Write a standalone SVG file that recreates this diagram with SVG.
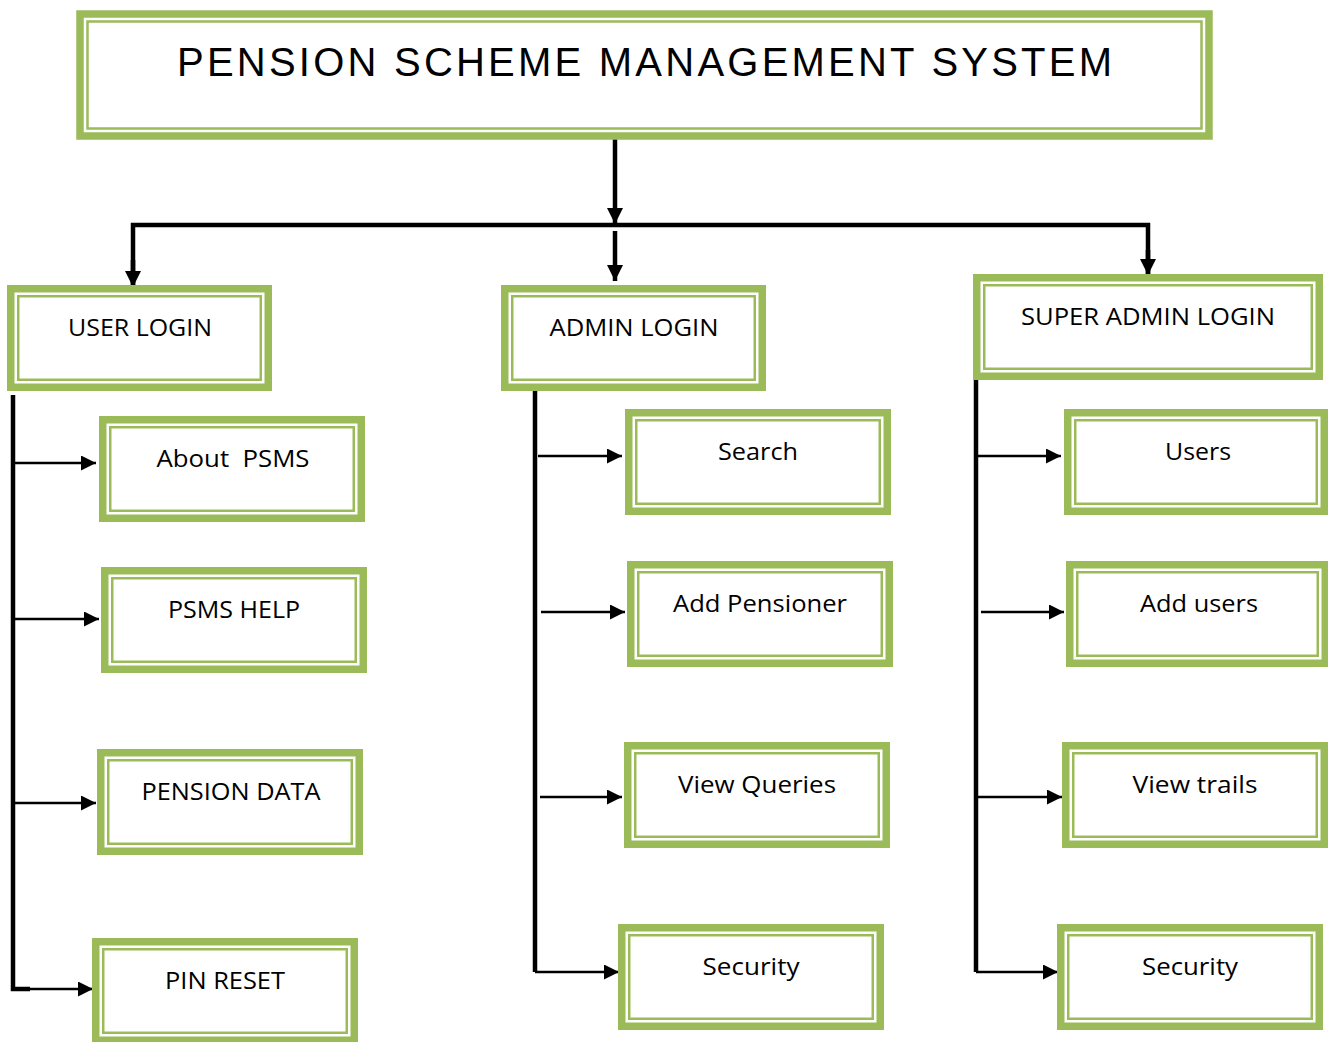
<svg xmlns="http://www.w3.org/2000/svg" width="1328" height="1042" viewBox="0 0 1328 1042">
<defs>
<style>
.band{fill:#fff;stroke:#9BBB59;stroke-width:7.5}
.thin{fill:none;stroke:#9BBB59;stroke-width:2.5}
.lbl{font-family:"Open Sans","Liberation Sans",sans-serif;font-size:24px;fill:#000;text-anchor:middle;white-space:pre}
.title{font-family:"Liberation Sans",Arial,sans-serif;font-size:40px;fill:#000;text-anchor:middle}
.main{stroke:#000;stroke-width:4.5;fill:none}
.br{stroke:#000;stroke-width:2.5;fill:none}
</style>
<marker id="ah" viewBox="0 0 10 10" refX="10" refY="5" markerWidth="15" markerHeight="15" markerUnits="userSpaceOnUse" orient="auto"><path d="M0,0 L10,5 L0,10 Z" fill="#000"/></marker>
<marker id="ahb" viewBox="0 0 10 10" refX="10" refY="5" markerWidth="16" markerHeight="16" markerUnits="userSpaceOnUse" orient="auto"><path d="M0,0 L10,5 L0,10 Z" fill="#000"/></marker>
</defs>

<g id="connectors">
<line class="main" x1="615" y1="135" x2="615" y2="224" marker-end="url(#ahb)"/>
<polyline class="main" points="133,288 133,225 1148,225 1148,275" />
<line class="main" x1="133" y1="260" x2="133" y2="287" marker-end="url(#ahb)"/>
<line class="main" x1="1148" y1="250" x2="1148" y2="275" marker-end="url(#ahb)"/>
<line class="main" x1="615" y1="231" x2="615" y2="281" marker-end="url(#ahb)"/>

<polyline class="main" points="13,395 13,989 30,989"/>
<line class="br" x1="15" y1="463" x2="96" y2="463" marker-end="url(#ah)"/>
<line class="br" x1="15" y1="619" x2="99" y2="619" marker-end="url(#ah)"/>
<line class="br" x1="15" y1="803" x2="96" y2="803" marker-end="url(#ah)"/>
<line class="br" x1="15" y1="989" x2="93" y2="989" marker-end="url(#ah)"/>

<line class="main" x1="535" y1="385" x2="535" y2="972"/>
<line class="br" x1="538" y1="456" x2="622" y2="456" marker-end="url(#ah)"/>
<line class="br" x1="541" y1="612" x2="625" y2="612" marker-end="url(#ah)"/>
<line class="br" x1="540" y1="797" x2="622" y2="797" marker-end="url(#ah)"/>
<line class="br" x1="535" y1="972" x2="619" y2="972" marker-end="url(#ah)"/>

<line class="main" x1="976" y1="375" x2="976" y2="972"/>
<line class="br" x1="978" y1="456" x2="1061" y2="456" marker-end="url(#ah)"/>
<line class="br" x1="981" y1="612" x2="1064" y2="612" marker-end="url(#ah)"/>
<line class="br" x1="978" y1="797" x2="1062" y2="797" marker-end="url(#ah)"/>
<line class="br" x1="976" y1="972" x2="1058" y2="972" marker-end="url(#ah)"/>
</g>

<g id="title">
<rect class="band" x="80" y="14" width="1129" height="122"/>
<rect class="thin" x="87.5" y="21.5" width="1114" height="107"/>
<text class="title" x="644.5" y="76" textLength="935" lengthAdjust="spacing">PENSION SCHEME MANAGEMENT SYSTEM</text>
</g>

<g id="user-login">
<rect class="band" x="10.75" y="288.75" width="257.5" height="98.5"/>
<rect class="thin" x="18.25" y="296.25" width="242.5" height="83.5"/>
<text class="lbl" x="140" y="336" textLength="144" lengthAdjust="spacingAndGlyphs">USER LOGIN</text>
</g>
<g id="admin-login">
<rect class="band" x="504.75" y="288.75" width="257.5" height="98.5"/>
<rect class="thin" x="512.25" y="296.25" width="242.5" height="83.5"/>
<text class="lbl" x="634" y="336" textLength="169" lengthAdjust="spacingAndGlyphs">ADMIN LOGIN</text>
</g>
<g id="super-admin-login">
<rect class="band" x="976.75" y="277.75" width="342.5" height="98.5"/>
<rect class="thin" x="984.25" y="285.25" width="327.5" height="83.5"/>
<text class="lbl" x="1148" y="325" textLength="254" lengthAdjust="spacingAndGlyphs">SUPER ADMIN LOGIN</text>
</g>

<g id="about-psms">
<rect class="band" x="102.75" y="419.75" width="258.5" height="98.5"/>
<rect class="thin" x="110.25" y="427.25" width="243.5" height="83.5"/>
<text class="lbl" x="233" y="467" textLength="153" lengthAdjust="spacingAndGlyphs">About  PSMS</text>
</g>
<g id="psms-help">
<rect class="band" x="104.75" y="570.75" width="258.5" height="98.5"/>
<rect class="thin" x="112.25" y="578.25" width="243.5" height="83.5"/>
<text class="lbl" x="234" y="618" textLength="132" lengthAdjust="spacingAndGlyphs">PSMS HELP</text>
</g>
<g id="pension-data">
<rect class="band" x="100.75" y="752.75" width="258.5" height="98.5"/>
<rect class="thin" x="108.25" y="760.25" width="243.5" height="83.5"/>
<text class="lbl" x="231" y="800" textLength="179" lengthAdjust="spacingAndGlyphs">PENSION DATA</text>
</g>
<g id="pin-reset">
<rect class="band" x="95.75" y="941.75" width="258.5" height="98.5"/>
<rect class="thin" x="103.25" y="949.25" width="243.5" height="83.5"/>
<text class="lbl" x="225" y="989" textLength="120" lengthAdjust="spacingAndGlyphs">PIN RESET</text>
</g>

<g id="search">
<rect class="band" x="628.75" y="412.75" width="258.5" height="98.5"/>
<rect class="thin" x="636.25" y="420.25" width="243.5" height="83.5"/>
<text class="lbl" x="758" y="460" textLength="80" lengthAdjust="spacingAndGlyphs">Search</text>
</g>
<g id="add-pensioner">
<rect class="band" x="630.75" y="564.75" width="258.5" height="98.5"/>
<rect class="thin" x="638.25" y="572.25" width="243.5" height="83.5"/>
<text class="lbl" x="760" y="612" textLength="174" lengthAdjust="spacingAndGlyphs">Add Pensioner</text>
</g>
<g id="view-queries">
<rect class="band" x="627.75" y="745.75" width="258.5" height="98.5"/>
<rect class="thin" x="635.25" y="753.25" width="243.5" height="83.5"/>
<text class="lbl" x="757" y="793" textLength="158" lengthAdjust="spacingAndGlyphs">View Queries</text>
</g>
<g id="security-admin">
<rect class="band" x="621.75" y="927.75" width="258.5" height="98.5"/>
<rect class="thin" x="629.25" y="935.25" width="243.5" height="83.5"/>
<text class="lbl" x="751" y="975" textLength="97" lengthAdjust="spacingAndGlyphs">Security</text>
</g>

<g id="users">
<rect class="band" x="1067.75" y="412.75" width="256.5" height="98.5"/>
<rect class="thin" x="1075.25" y="420.25" width="241.5" height="83.5"/>
<text class="lbl" x="1198" y="460" textLength="66" lengthAdjust="spacingAndGlyphs">Users</text>
</g>
<g id="add-users">
<rect class="band" x="1069.75" y="564.75" width="255.5" height="98.5"/>
<rect class="thin" x="1077.25" y="572.25" width="240.5" height="83.5"/>
<text class="lbl" x="1199" y="612" textLength="118" lengthAdjust="spacingAndGlyphs">Add users</text>
</g>
<g id="view-trails">
<rect class="band" x="1065.75" y="745.75" width="258.5" height="98.5"/>
<rect class="thin" x="1073.25" y="753.25" width="243.5" height="83.5"/>
<text class="lbl" x="1195" y="793" textLength="125" lengthAdjust="spacingAndGlyphs">View trails</text>
</g>
<g id="security-super">
<rect class="band" x="1060.75" y="927.75" width="258.5" height="98.5"/>
<rect class="thin" x="1068.25" y="935.25" width="243.5" height="83.5"/>
<text class="lbl" x="1190" y="975" textLength="96" lengthAdjust="spacingAndGlyphs">Security</text>
</g>
</svg>
